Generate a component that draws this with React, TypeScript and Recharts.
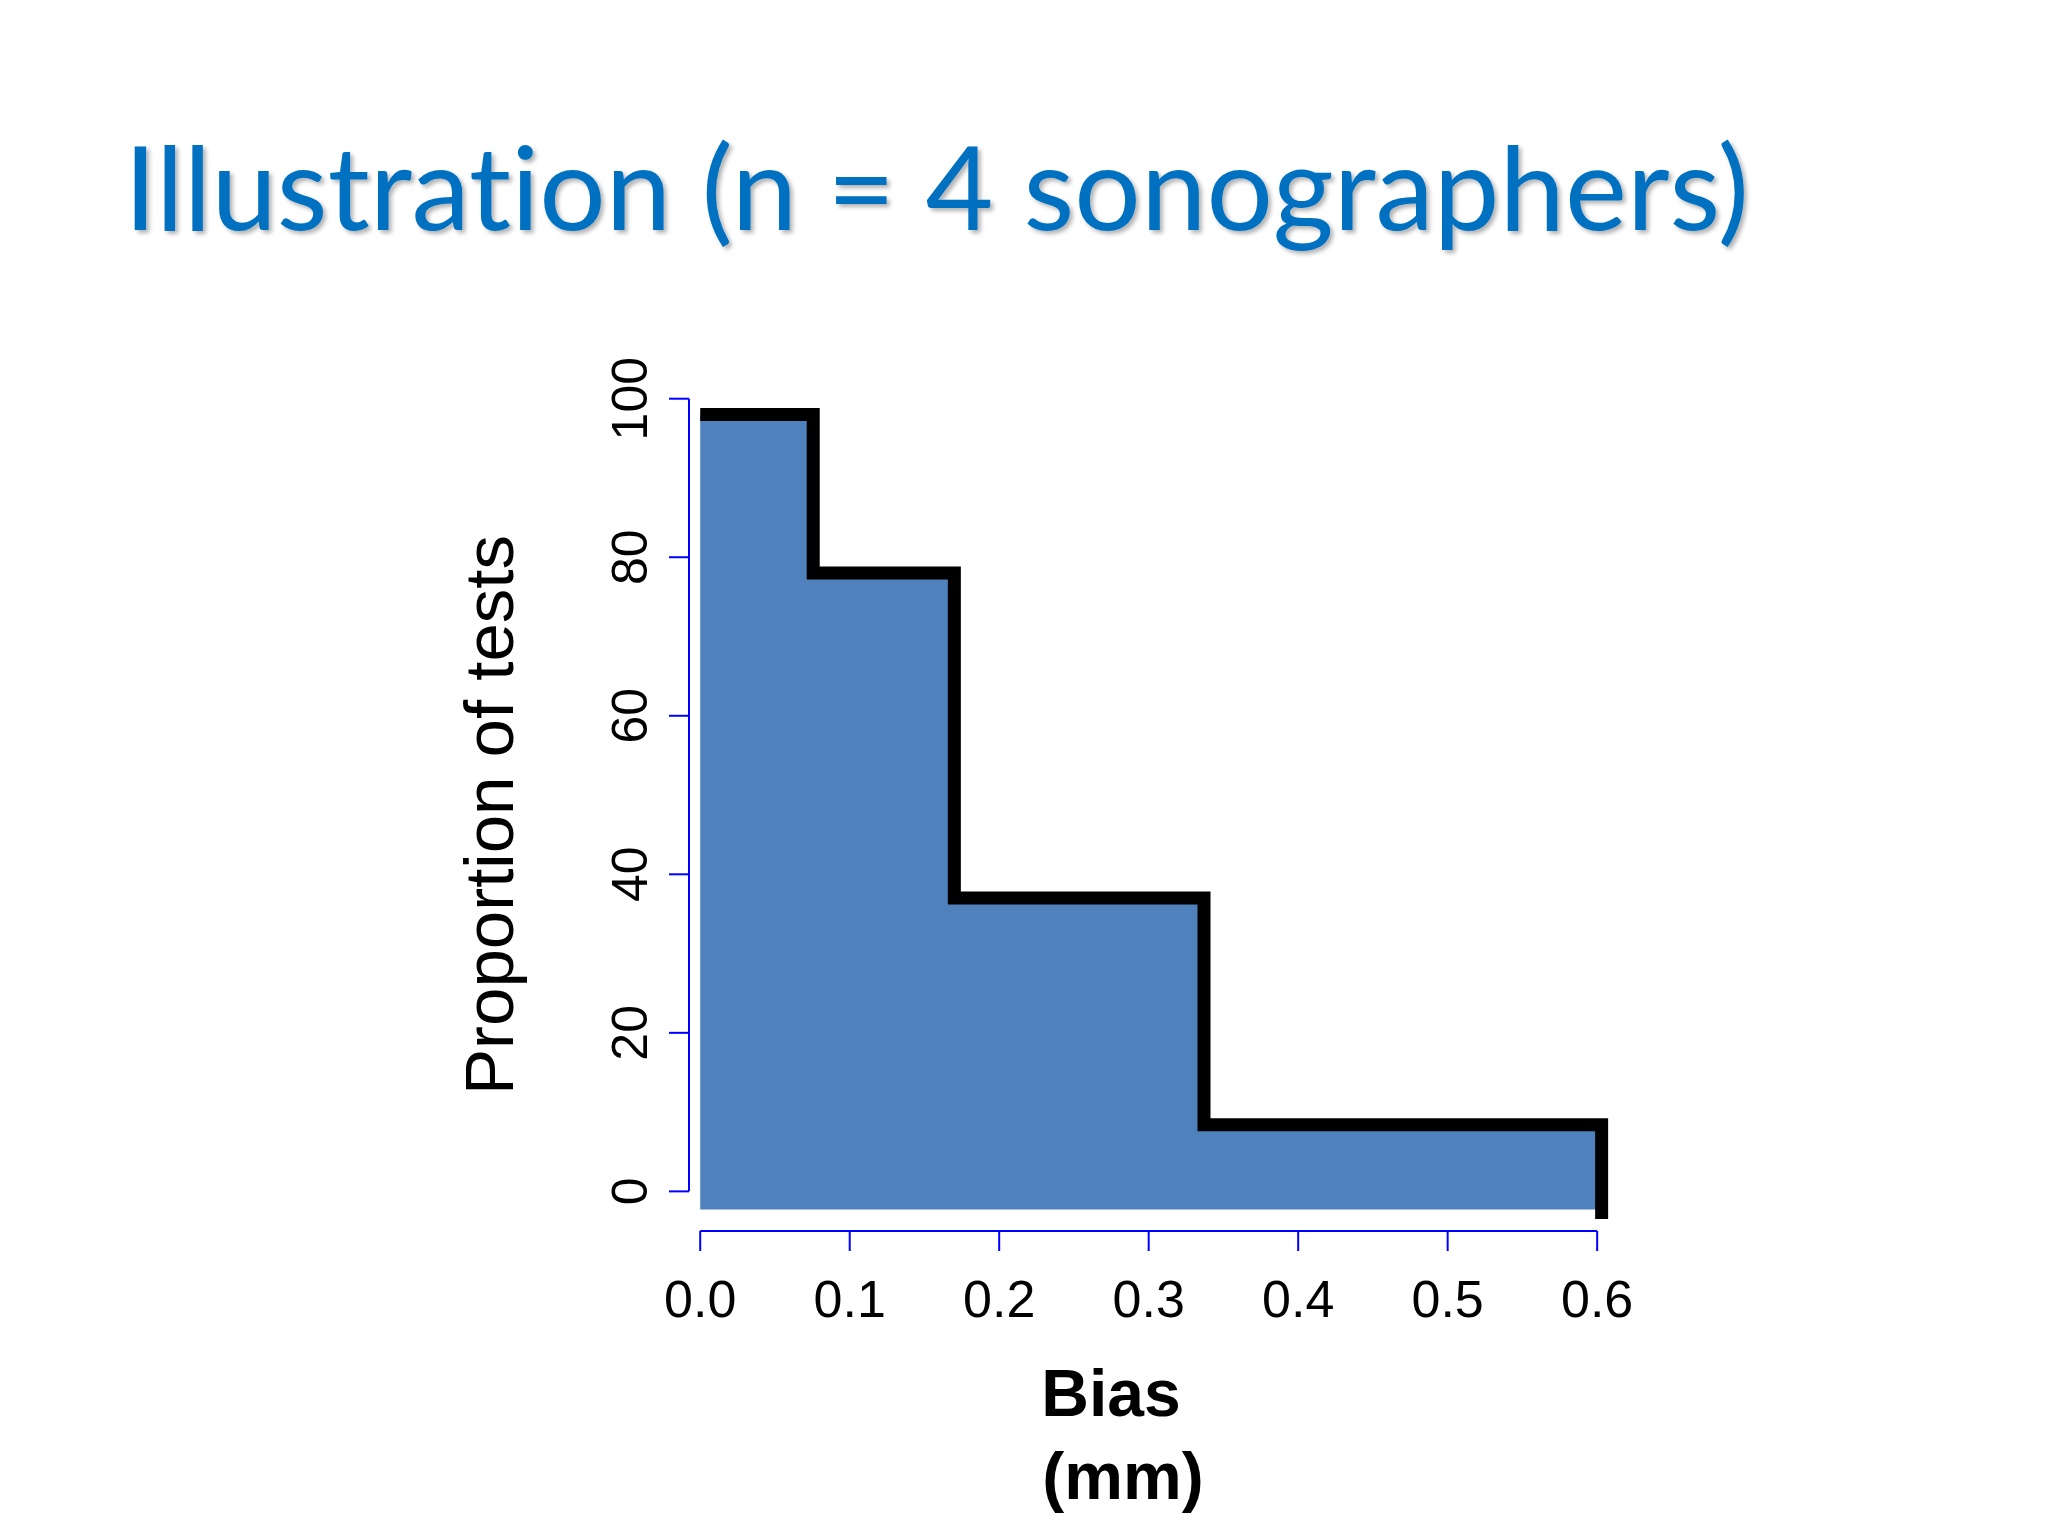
import React from 'react';
import {
  ComposedChart,
  Area,
  Line,
  XAxis,
  YAxis,
  ReferenceLine,
} from 'recharts';

// step corners of the cumulative curve (bias in mm, % of tests)
const biasMm = [0, 0.0756, 0.17, 0.337, 0.603, 0.603];
const outlinePct = [98.0, 78.0, 37.0, 8.4, 8.4, -3.5];
const fillPct = [98.0, 78.0, 37.0, 8.4, 8.4, null];
const FILL_BASE = -2.3;

const xTicks = [0, 0.1, 0.2, 0.3, 0.4, 0.5, 0.6];
const yTicks = [0, 20, 40, 60, 80, 100];

const X_MIN = -0.0075;
const X_MAX = 0.63;
const Y_MIN = -5;
const Y_MAX = 104;

const data = biasMm.map((bias, i) => ({
  bias,
  outline: outlinePct[i],
  fill: fillPct[i],
}));

const AXIS_BLUE = '#0000ff';
const SANS = '"Liberation Sans", Arial, Helvetica, sans-serif';

function XTick({ x, y, payload }: any) {
  return (
    <text x={x} y={y + 66} textAnchor="middle" fontSize={52} fontFamily={SANS} fill="#000">
      {Number(payload.value).toFixed(1)}
    </text>
  );
}

function YTick({ x, y, payload }: any) {
  return (
    <text
      transform={`translate(${x - 22}, ${y}) rotate(-90)`}
      textAnchor="middle"
      fontSize={50}
      fontFamily={SANS}
      fill="#000"
    >
      {payload.value}
    </text>
  );
}

export default function App() {
  return (
    <div style={{ position: 'absolute', left: 0, top: 0, width: 2048, height: 1536, background: '#fff' }}>
      <ComposedChart
        width={2048}
        height={1536}
        data={data}
        margin={{ top: 367, right: 406, bottom: 105, left: 539 }}
      >
        <XAxis
          dataKey="bias"
          type="number"
          domain={[X_MIN, X_MAX]}
          allowDataOverflow
          ticks={xTicks}
          interval={0}
          axisLine={false}
          tickLine={{ stroke: AXIS_BLUE, strokeWidth: 2 }}
          tickSize={20}
          tickMargin={0}
          tick={XTick}
          height={200}
        />
        <YAxis
          type="number"
          domain={[Y_MIN, Y_MAX]}
          allowDataOverflow
          ticks={yTicks}
          interval={0}
          axisLine={false}
          tickLine={{ stroke: AXIS_BLUE, strokeWidth: 2 }}
          tickSize={20}
          tickMargin={0}
          tick={YTick}
          width={150}
        />
        <Area
          dataKey="fill"
          type="stepAfter"
          baseValue={FILL_BASE}
          fill="#4f81bd"
          fillOpacity={1}
          stroke="none"
          dot={false}
          activeDot={false}
          isAnimationActive={false}
        />
        <Line
          dataKey="outline"
          type="stepAfter"
          stroke="#000"
          strokeWidth={13}
          strokeLinejoin="miter"
          strokeLinecap="butt"
          dot={false}
          activeDot={false}
          isAnimationActive={false}
        />
        <ReferenceLine
          segment={[{ x: 0, y: Y_MIN }, { x: 0.6, y: Y_MIN }]}
          stroke={AXIS_BLUE}
          strokeWidth={2}
          ifOverflow="visible"
        />
        <ReferenceLine
          segment={[{ x: X_MIN, y: 0 }, { x: X_MIN, y: 100 }]}
          stroke={AXIS_BLUE}
          strokeWidth={2}
          ifOverflow="visible"
        />
      </ComposedChart>
      <svg
        width={2048}
        height={1536}
        style={{ position: 'absolute', left: 0, top: 0, pointerEvents: 'none' }}
      >
        <defs>
          <filter id="titleShadow" x="-5%" y="-20%" width="110%" height="150%">
            <feDropShadow dx="3" dy="3" stdDeviation="2" floodColor="#000" floodOpacity="0.3" />
          </filter>
        </defs>
        <text
          x={124}
          y={230}
          fontFamily='Lato, "Open Sans", sans-serif'
          fontSize={116}
          fill="#0070c0"
          textLength={1625}
          lengthAdjust="spacingAndGlyphs"
          filter="url(#titleShadow)"
          style={{ fontVariantLigatures: 'none', fontFeatureSettings: '"liga" 0, "clig" 0' }}
        >
          Illustration (n = 4 sonographers)
        </text>
        <text
          transform="translate(513, 815) rotate(-90)"
          textAnchor="middle"
          fontFamily={SANS}
          fontSize={69}
          fill="#000"
        >
          Proportion of tests
        </text>
        <text x={1111} y={1416} textAnchor="middle" fontFamily={SANS} fontSize={66} fontWeight="bold" fill="#000">
          Bias
        </text>
        <text x={1123} y={1499} textAnchor="middle" fontFamily={SANS} fontSize={66} fontWeight="bold" fill="#000">
          (mm)
        </text>
      </svg>
    </div>
  );
}
